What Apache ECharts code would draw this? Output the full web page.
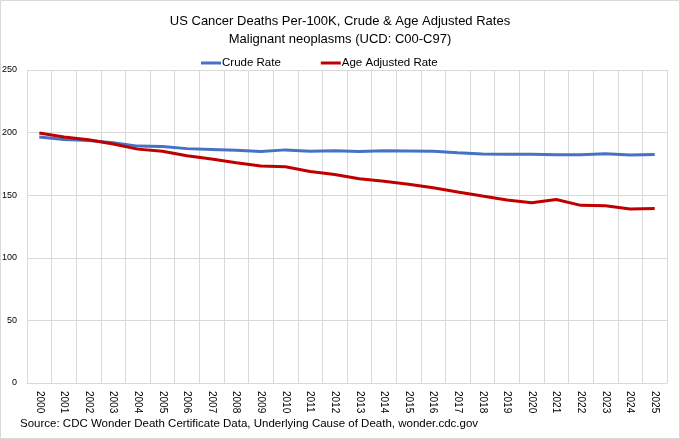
<!DOCTYPE html>
<html>
<head>
<meta charset="utf-8">
<script src="https://cdn.jsdelivr.net/npm/echarts@6/dist/echarts.min.js"></script>
<style>
    html, body { margin: 0; padding: 0; background: #fff; }
    #chart { width: 680px; height: 439px; }
</style>
</head>
<body>
<div id="chart"></div>
<script>
    var years = ['2000', '2001', '2002', '2003', '2004', '2005', '2006', '2007', '2008', '2009',
        '2010', '2011', '2012', '2013', '2014', '2015', '2016', '2017', '2018', '2019',
        '2020', '2021', '2022', '2023', '2024', '2025'];

    var crudeRate = [196.5, 194.4, 193.7, 191.9, 189.2, 188.9, 187.2, 186.6, 185.9, 184.9,
        186.2, 185.1, 185.6, 185.0, 185.6, 185.4, 185.1, 183.9, 183.0, 182.7,
        182.8, 182.4, 182.4, 183.2, 182.2, 182.5];

    var ageAdjustedRate = [199.6, 196.5, 194.3, 190.9, 186.8, 185.1, 181.5, 178.9, 176.0, 173.3,
        172.8, 168.9, 166.5, 163.2, 161.2, 158.7, 156.0, 152.5, 149.3, 146.2,
        144.0, 146.5, 141.9, 141.5, 138.9, 139.3];

    var yTicks = [0, 50, 100, 150, 200, 250];

    var chart = echarts.init(document.getElementById('chart'));

    var font = 'Liberation Sans';

    var option = {
        backgroundColor: '#fff',
        animation: false,
        title: {
            text: 'US Cancer Deaths Per-100K, Crude & Age Adjusted Rates\nMalignant neoplasms (UCD: C00-C97)',
            left: 'center',
            top: 7,
            textStyle: {
                fontFamily: font,
                fontSize: 13,
                fontWeight: 'normal',
                color: '#000',
                lineHeight: 18
            }
        },
        legend: {
            left: 196,
            top: 52,
            itemWidth: 20,
            itemHeight: 3,
            itemGap: 40,
            icon: 'rect',
            textStyle: { fontFamily: font, fontSize: 11.5, color: '#000', padding: [0, 0, 0, -4] },
            data: ['Crude Rate', 'Age Adjusted Rate']
        },
        grid: {
            left: 27,
            right: 13,
            top: 70,
            bottom: 56,
            outerBoundsMode: 'none'
        },
        xAxis: {
            type: 'category',
            data: years,
            boundaryGap: true,
            axisLine: { show: true, lineStyle: { color: '#d9d9d9' } },
            axisTick: { show: false },
            splitLine: { show: true, lineStyle: { color: '#d9d9d9', width: 1 } },
            axisLabel: {
                rotate: -90,
                interval: 0,
                margin: 8,
                fontFamily: font,
                fontSize: 10,
                color: '#000'
            }
        },
        yAxis: {
            type: 'value',
            min: yTicks[0],
            max: yTicks[yTicks.length - 1],
            interval: yTicks[1] - yTicks[0],
            axisLine: { show: false },
            axisTick: { show: false },
            splitLine: { lineStyle: { color: '#d9d9d9', width: 1 } },
            axisLabel: {
                margin: 10,
                fontFamily: font,
                fontSize: 9,
                color: '#000'
            }
        },
        series: [
            {
                name: 'Crude Rate',
                type: 'line',
                data: crudeRate,
                symbol: 'none',
                color: '#4472C4',
                lineStyle: { width: 3, color: '#4472C4' }
            },
            {
                name: 'Age Adjusted Rate',
                type: 'line',
                data: ageAdjustedRate,
                symbol: 'none',
                color: '#C00000',
                lineStyle: { width: 3, color: '#C00000' }
            }
        ],
        graphic: [
            {
                type: 'rect',
                shape: { x: 0.5, y: 0.5, width: 679, height: 438 },
                style: { fill: 'none', stroke: '#d9d9d9', lineWidth: 1 }
            },
            {
                type: 'text',
                left: 20,
                top: 418,
                style: {
                    text: 'Source: CDC Wonder Death Certificate Data, Underlying Cause of Death, wonder.cdc.gov',
                    fontFamily: font,
                    fontSize: 11.5,
                    fill: '#000'
                }
            }
        ]
    };

    chart.setOption(option);
</script>
</body>
</html>
